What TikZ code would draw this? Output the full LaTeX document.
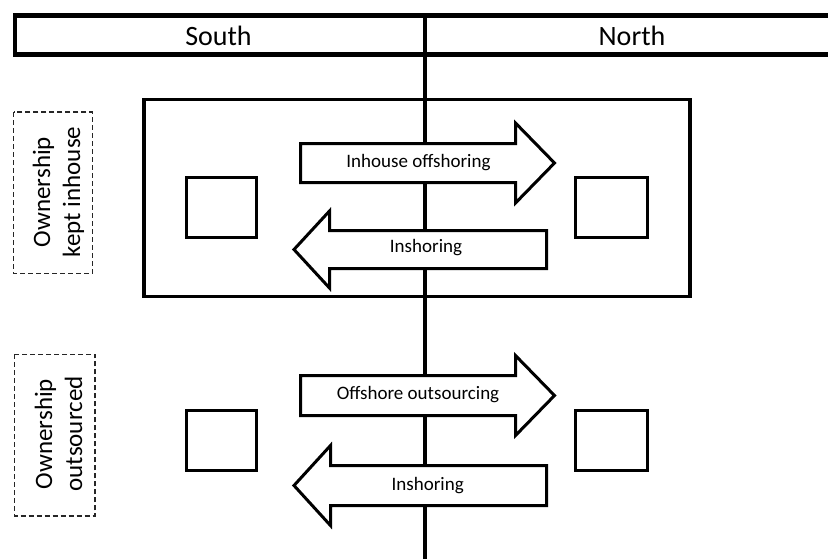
\documentclass[tikz,border=0pt]{standalone}
\usepackage{fontspec}
\setmainfont{Carlito}
\begin{document}
\begin{tikzpicture}[x=1pt,y=-1pt,
  header/.style={line width=4.5pt},
  divider/.style={line width=4.3pt},
  groupbox/.style={line width=3.4pt},
  site/.style={line width=3pt},
  blockarrow/.style={line width=3pt, fill=white, line join=miter},
  ownerbox/.style={line width=1.3pt, draw=black!85, dash pattern=on 5pt off 3pt},
  headtext/.style={font=\fontsize{28}{33}\selectfont, anchor=base},
  flowtext/.style={font=\fontsize{19}{23}\selectfont, anchor=base},
  ownertext/.style={font=\fontsize{25}{30}\selectfont, align=center, rotate=90}
]
\useasboundingbox (0,0) rectangle (828,558);
\begin{scope}
\clip (0,0) rectangle (828,558);

% column header
\draw[header] (15,15.5) rectangle (850,54.5);
\node[headtext] (south) at (218.5,45.5) {South};
\node[headtext] (north) at (632,45.5) {North};

% south / north border
\draw[divider] (425,15.5) -- (425,570);

% ownership kept inhouse
\draw[groupbox] (144,99.5) rectangle (690,296.5);
\draw[site] (186,177.5) rectangle (256,237.5);
\draw[site] (575,177.5) rectangle (647.5,237.5);

\draw[blockarrow] (300.5,143.5) -- (515.5,143.5) -- (515.5,123) -- (554.5,163)
  -- (515.5,203) -- (515.5,182.5) -- (300.5,182.5) -- cycle;
\node[flowtext] (offshoring) at (418.5,167.7) {Inhouse offshoring};

\draw[blockarrow] (546.5,230.5) -- (329.5,230.5) -- (329.5,211) -- (294,249.5)
  -- (329.5,288) -- (329.5,268.5) -- (546.5,268.5) -- cycle;
\node[flowtext] (inshoring1) at (426,252.7) {Inshoring};

% ownership outsourced
\draw[site] (186,410) rectangle (256,470);
\draw[site] (575,410) rectangle (647.5,470);

\draw[blockarrow] (300.5,375.5) -- (515.5,375.5) -- (515.5,355.5) -- (554.5,395.5)
  -- (515.5,435.5) -- (515.5,415.5) -- (300.5,415.5) -- cycle;
\node[flowtext] (outsourcing) at (418,399.3) {Offshore outsourcing};

\draw[blockarrow] (546.5,465.5) -- (330.5,465.5) -- (330.5,445.5) -- (294,485.5)
  -- (330.5,525.5) -- (330.5,505.5) -- (546.5,505.5) -- cycle;
\node[flowtext] (inshoring2) at (427.7,490) {Inshoring};

% ownership labels
\draw[ownerbox] (13.7,112) rectangle (92.7,273.3);
\node[ownertext] (kept) at (58.5,192) {Ownership\\kept inhouse};
\draw[ownerbox] (14.3,354.3) rectangle (95,516);
\node[ownertext] (outsourced) at (58.5,434) {Ownership\\outsourced};
\end{scope}
\end{tikzpicture}
\end{document}
